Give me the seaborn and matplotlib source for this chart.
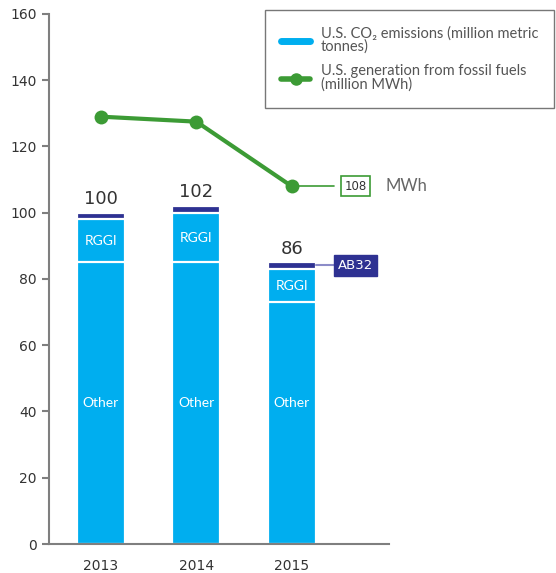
import numpy as np
import pandas as pd
import matplotlib
matplotlib.use("Agg")
import matplotlib.pyplot as plt
from matplotlib.lines import Line2D
import seaborn as sns

years = ["2013", "2014", "2015"]
other = [85, 85, 73]
rggi = [13, 15, 10]
ab32 = [2, 2, 2]
total_labels = ["100", "102", "86"]
generation = [129, 127.5, 108]

blue = "#00AEEF"
navy = "#2E3192"
green = "#3C9B35"
grey = "#7F7F7F"
txt = "#333333"

sns.set_style("white")
plt.rcParams["font.family"] = ["DejaVu Sans"]

df = pd.DataFrame({"year": years, "other": other, "rggi": rggi, "ab32": ab32})
df["lvl_rggi"] = df["other"] + df["rggi"]
df["lvl_top"] = df["lvl_rggi"] + df["ab32"]

fig = plt.figure(figsize=(5.56, 5.73), dpi=100)
ax = fig.add_axes([0.0881, 0.0506, 0.6115, 0.925])

# stacked bars, drawn from the top level down so white edges split the segments
for col, c in [("lvl_top", navy), ("lvl_rggi", blue), ("other", blue)]:
    sns.barplot(data=df, x="year", y=col, color=c, saturation=1, width=0.5,
                edgecolor="white", linewidth=1.6, ax=ax)

xs = np.arange(len(years))
sns.lineplot(x=xs, y=generation, color=green, lw=3, marker="o", markersize=10,
             markeredgewidth=0, ax=ax, clip_on=False)

for i in range(len(years)):
    ax.text(i, df["lvl_top"][i] + 1.4, total_labels[i], ha="center", va="bottom",
            fontsize=13, color=txt)
    ax.text(i, df["other"][i] + df["rggi"][i] / 2, "RGGI", ha="center", va="center",
            fontsize=10, color="white", family="Lato")
    ax.text(i, 42.5, "Other", ha="center", va="center", fontsize=10, color="white",
            family="Lato")

# callouts for 2015
ax.plot([2, 2.44], [generation[2], generation[2]], color=green, lw=1.2, clip_on=False, zorder=1)
ax.text(2.67, generation[2], "108", ha="center", va="center", fontsize=8.5, color=txt,
        bbox=dict(boxstyle="square,pad=0.3", fc="white", ec=green, lw=1.2),
        zorder=5, clip_on=False)
ax.text(2.98, generation[2], "MWh", ha="left", va="center", fontsize=12, color="#666666",
        family="Lato", clip_on=False)
ax.plot([2.25, 2.44], [84.2, 84.2], color="#8C8CC8", lw=1.5, clip_on=False, zorder=1)
ax.text(2.67, 84.2, "AB32", ha="center", va="center", fontsize=9.5, color="white",
        bbox=dict(boxstyle="square,pad=0.3", fc=navy, ec=navy), clip_on=False)

ax.set_xlim(-0.545, 3.02)
ax.set_ylim(0, 160)
ax.set_yticks(range(0, 161, 20))
ax.set_xlabel("")
ax.set_ylabel("")
sns.despine(ax=ax)
for s in ["left", "bottom"]:
    ax.spines[s].set_color(grey)
    ax.spines[s].set_linewidth(1.5)
ax.tick_params(axis="y", left=True, length=5, width=1.5, color=grey, labelsize=10,
               labelcolor=txt, pad=4)
ax.tick_params(axis="x", bottom=False, labelsize=10, labelcolor=txt, pad=7)

handles = [Line2D([], [], color=blue, lw=5),
           Line2D([], [], color=green, lw=4, marker="o", markersize=8)]
labels = ["U.S. CO₂ emissions (million metric\ntonnes)",
          "U.S. generation from fossil fuels\n(million MWh)"]
leg = fig.legend(handles, labels, loc="upper left", bbox_to_anchor=(0.477, 0.9825),
                 frameon=True, fancybox=False, edgecolor="#555555",
                 prop={"family": "Lato", "size": 10.5},
                 handlelength=2.0, borderpad=1.1, labelspacing=0.7, handletextpad=0.7,
                 borderaxespad=0)
for t in leg.get_texts():
    t.set_color("#555555")
    t.set_linespacing(0.95)
leg.get_frame().set_linewidth(1.0)

fig.savefig("out.png", dpi=100)
